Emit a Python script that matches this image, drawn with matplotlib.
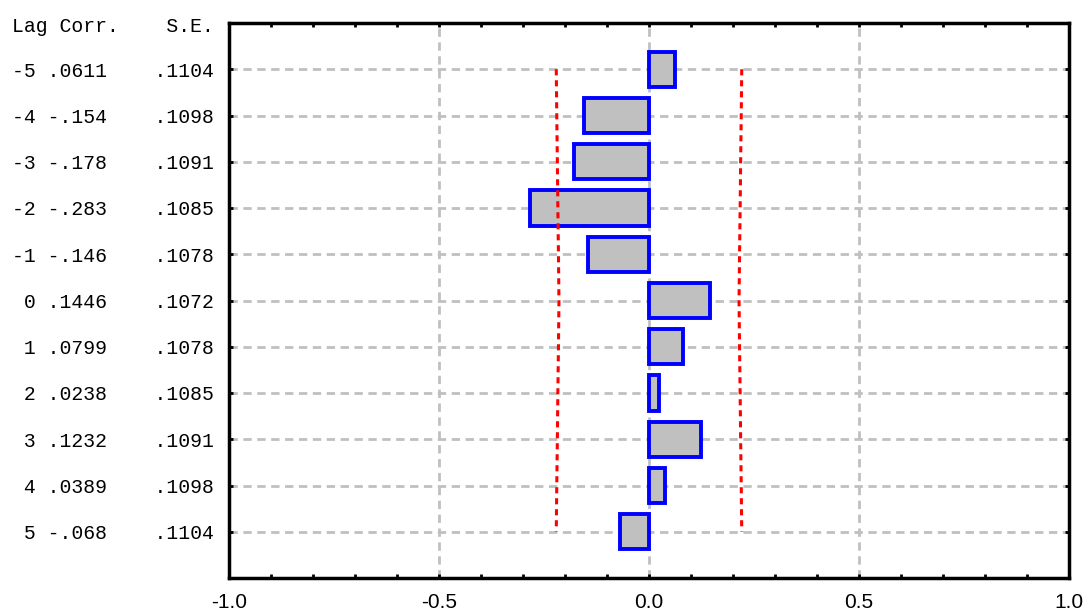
#!/usr/bin/env python3

import matplotlib
matplotlib.use("Agg")
import matplotlib.pyplot as plt
import matplotlib.transforms as mtransforms
import numpy as np

lags = [-5, -4, -3, -2, -1, 0, 1, 2, 3, 4, 5]
corr = [0.0611, -0.154, -0.178, -0.283, -0.146, 0.1446, 0.0799, 0.0238, 0.1232, 0.0389, -0.068]
se = [0.1104, 0.1098, 0.1091, 0.1085, 0.1078, 0.1072, 0.1078, 0.1085, 0.1091, 0.1098, 0.1104]
corr_text = [".0611", "-.154", "-.178", "-.283", "-.146", ".1446", ".0799", ".0238", ".1232", ".0389", "-.068"]
se_text = [".1104", ".1098", ".1091", ".1085", ".1078", ".1072", ".1078", ".1085", ".1091", ".1098", ".1104"]


def main():
    fig = plt.figure(figsize=(10.85, 6.14), dpi=100)
    ax = fig.add_axes([229 / 1085, 1 - 578 / 614, 840 / 1085, 555 / 614])

    rows = np.arange(1, len(lags) + 1)

    ax.barh(rows, corr, height=0.76, color="#c0c0c0", edgecolor="#0000ff",
            linewidth=2.8, zorder=3)

    # +/- 2 standard errors
    lim = 2 * np.array(se)
    ax.plot(lim, rows, color="red", linestyle=(0, (2, 1.6)), linewidth=2.2, zorder=4)
    ax.plot(-lim, rows, color="red", linestyle=(0, (2, 1.6)), linewidth=2.2, zorder=4)

    ax.set_xlim(-1, 1)
    ax.set_ylim(12, 0)

    ax.set_xticks([-1, -0.5, 0, 0.5, 1])
    ax.set_xticklabels(["-1.0", "-0.5", "0.0", "0.5", "1.0"],
                       fontsize=15, family="Liberation Sans")
    ax.set_xticks(np.arange(-1, 1.01, 0.1), minor=True)
    ax.set_yticks(rows)
    ax.set_yticklabels([])

    ax.tick_params(axis="both", which="both", direction="in", length=3, width=2,
                   top=True, right=True, color="black")
    ax.tick_params(axis="x", which="major", pad=11)

    for x in [-0.5, 0, 0.5]:
        ax.axvline(x, color="#c0c0c0", linestyle=(0, (3, 2)), linewidth=2, zorder=1)
    for r in rows:
        ax.axhline(r, color="#c0c0c0", linestyle=(0, (3, 2)), linewidth=2, zorder=1)

    for s in ax.spines.values():
        s.set_linewidth(2.5)

    # text columns on the left: x in pixels, y in data
    trans = mtransforms.blended_transform_factory(
        mtransforms.IdentityTransform(), ax.transData)
    font = dict(family="Liberation Mono", fontsize=14.2, va="center", ha="left",
                transform=trans, clip_on=False)
    ax.text(12, 0.08, "Lag Corr.    S.E.", **font)
    for r, lag, c, s in zip(rows, lags, corr_text, se_text):
        line = "{:>2} {:<5}    {}".format(lag, c, s)
        ax.text(12, r + 0.04, line, **font)

    fig.savefig("out.png", dpi=100)


if __name__ == "__main__":
    main()
